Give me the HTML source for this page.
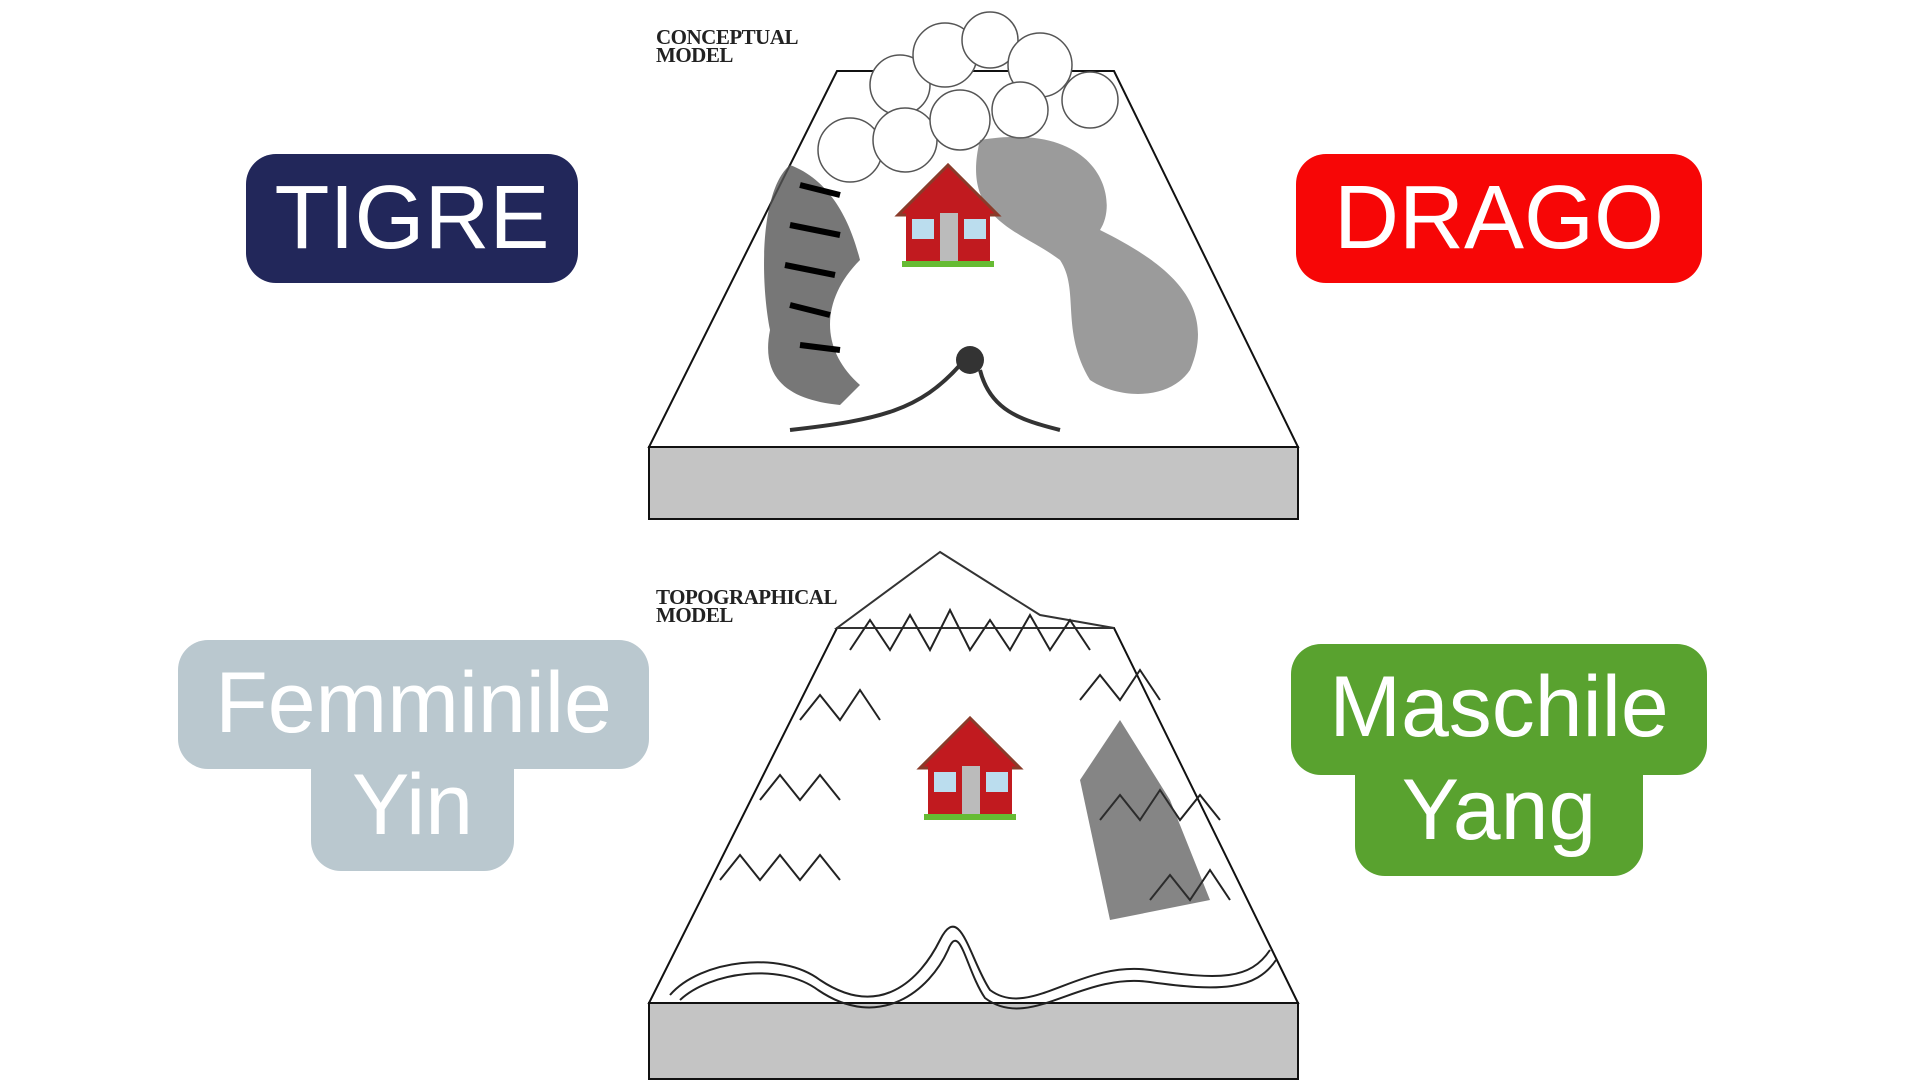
<!DOCTYPE html>
<html><head><meta charset="utf-8"><style>
html,body{margin:0;padding:0;background:#fff;}
body{width:1920px;height:1080px;position:relative;overflow:hidden;font-family:"Liberation Sans",sans-serif;}
.box{position:absolute;color:#fff;display:flex;align-items:center;justify-content:center;font-size:90px;}
.lbl{position:absolute;font-family:"Liberation Serif",serif;font-weight:bold;font-size:21px;line-height:18px;color:#222;letter-spacing:-0.5px;}
</style></head><body>
<div class="box" style="left:246px;top:154px;width:332px;height:129px;background:#22275a;border-radius:30px;">TIGRE</div>
<div class="box" style="left:1296px;top:154px;width:406px;height:129px;background:#f70606;border-radius:30px;">DRAGO</div>

<div style="position:absolute;left:178px;top:640px;width:471px;height:129px;background:#bac8cf;border-radius:30px;"></div>
<div style="position:absolute;left:311px;top:740px;width:203px;height:131px;background:#bac8cf;border-radius:0 0 30px 30px;"></div>
<div class="box" style="left:178px;top:648px;width:471px;height:110px;font-size:86px;">Femminile</div>
<div class="box" style="left:311px;top:750px;width:203px;height:110px;font-size:86px;">Yin</div>

<div style="position:absolute;left:1291px;top:644px;width:416px;height:131px;background:#59a22f;border-radius:30px;"></div>
<div style="position:absolute;left:1355px;top:740px;width:288px;height:136px;background:#59a22f;border-radius:0 0 30px 30px;"></div>
<div class="box" style="left:1291px;top:652px;width:416px;height:110px;font-size:86px;">Maschile</div>
<div class="box" style="left:1355px;top:755px;width:288px;height:110px;font-size:86px;">Yang</div>

<div class="lbl" style="left:656px;top:28px;">CONCEPTUAL<br>MODEL</div>
<div class="lbl" style="left:656px;top:588px;">TOPOGRAPHICAL<br>MODEL</div>

<svg width="1920" height="1080" style="position:absolute;left:0;top:0" xmlns="http://www.w3.org/2000/svg">
<defs>
<filter id="n"><feTurbulence baseFrequency="0.9" numOctaves="2" seed="3"/><feColorMatrix values="0 0 0 0 0.55 0 0 0 0 0.55 0 0 0 0 0.55 0 0 0 0.9 0"/><feComposite in2="SourceGraphic" operator="in"/></filter>
</defs>
<!-- top slab -->
<polygon points="837,71 1114,71 1298,447 649,447" fill="#fff" stroke="#111" stroke-width="2"/>
<rect x="649" y="447" width="649" height="72" fill="#c4c4c4" stroke="#111" stroke-width="2"/>
<rect x="650" y="448" width="647" height="70" fill="#fff" filter="url(#n)"/>
<!-- clouds -->
<g fill="#fff" stroke="#555" stroke-width="1.5">
<circle cx="900" cy="85" r="30"/><circle cx="945" cy="55" r="32"/><circle cx="990" cy="40" r="28"/><circle cx="1040" cy="65" r="32"/><circle cx="1090" cy="100" r="28"/>
<circle cx="850" cy="150" r="32"/><circle cx="905" cy="140" r="32"/><circle cx="960" cy="120" r="30"/><circle cx="1020" cy="110" r="28"/>
</g>
<!-- tiger -->
<path d="M790,165 C760,190 760,280 770,330 C760,380 790,400 840,405 L860,385 C820,350 820,300 860,260 C850,220 830,180 790,165Z" fill="#555" opacity=".8"/>
<path d="M800,185 l40,10 M790,225 l50,10 M785,265 l50,10 M790,305 l40,10 M800,345 l40,5" stroke="#000" stroke-width="6"/>
<!-- dragon -->
<path d="M980,140 C1100,120 1120,200 1100,230 C1160,260 1220,300 1190,370 C1170,400 1120,400 1090,380 C1060,330 1080,290 1060,260 C1020,230 960,220 980,140Z" fill="#666" opacity=".65"/>
<path d="M790,430 C880,420 920,410 960,365 M1060,430 C1020,420 990,410 980,370" stroke="#333" stroke-width="4" fill="none"/>
<circle cx="970" cy="360" r="14" fill="#333"/>
<!-- house top -->
<g transform="translate(898,165)">
<polygon points="50,0 0,50 100,50" fill="#c11a1f" stroke="#8a3b2a" stroke-width="3"/>
<rect x="8" y="45" width="84" height="55" fill="#c11a1f"/>
<rect x="42" y="48" width="18" height="52" fill="#bbb"/>
<rect x="14" y="54" width="22" height="20" fill="#bde"/><rect x="66" y="54" width="22" height="20" fill="#bde"/>
<rect x="4" y="96" width="92" height="6" fill="#6b3"/>
</g>
<!-- bottom slab -->
<polygon points="837,628 1114,628 1298,1003 649,1003" fill="#fff" stroke="#111" stroke-width="2"/>
<polygon points="940,552 837,628 1114,628 1040,615" fill="#fff" stroke="#333" stroke-width="2"/>
<rect x="649" y="1003" width="649" height="76" fill="#c4c4c4" stroke="#111" stroke-width="2"/>
<rect x="650" y="1004" width="647" height="74" fill="#fff" filter="url(#n)"/>
<g fill="none" stroke="#222" stroke-width="2">
<path d="M850,650 l20,-30 l20,30 l20,-35 l20,35 l20,-40 l20,40 l20,-30 l20,30 l20,-35 l20,35 l20,-30 l20,30 M800,720 l20,-25 l20,25 l20,-30 l20,30 M1080,700 l20,-25 l20,25 l20,-30 l20,30 M760,800 l20,-25 l20,25 l20,-25 l20,25 M1100,820 l20,-25 l20,25 l20,-30 l20,30 l20,-25 l20,25 M720,880 l20,-25 l20,25 l20,-25 l20,25 l20,-25 l20,25 M1150,900 l20,-25 l20,25 l20,-30 l20,30"/>
<path d="M670,995 C700,960 780,950 820,980 C880,1020 920,980 940,940 C960,900 970,960 990,990 C1030,1020 1080,960 1150,970 C1220,980 1250,980 1270,950"/>
<path d="M680,1000 C710,972 780,962 818,990 C880,1032 930,990 948,950 C960,920 966,970 985,998 C1030,1032 1080,972 1150,982 C1220,992 1256,990 1276,960"/>
</g>
<path d="M1080,780 l40,-60 l50,80 l40,100 l-100,20 Z" fill="#333" opacity=".6"/>
<g transform="translate(920,718)">
<polygon points="50,0 0,50 100,50" fill="#c11a1f" stroke="#8a3b2a" stroke-width="3"/>
<rect x="8" y="45" width="84" height="55" fill="#c11a1f"/>
<rect x="42" y="48" width="18" height="52" fill="#bbb"/>
<rect x="14" y="54" width="22" height="20" fill="#bde"/><rect x="66" y="54" width="22" height="20" fill="#bde"/>
<rect x="4" y="96" width="92" height="6" fill="#6b3"/>
</g>
</svg>
</body></html>
